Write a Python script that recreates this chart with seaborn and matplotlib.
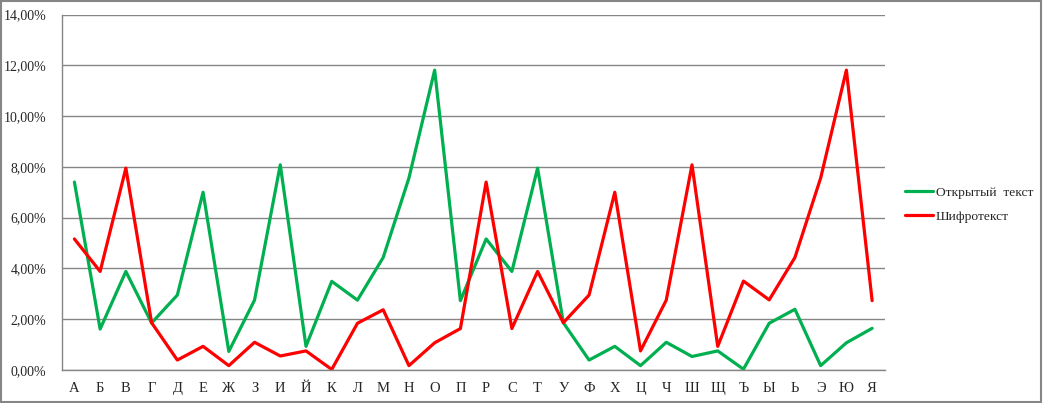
import pandas as pd
import seaborn as sns
import matplotlib.pyplot as plt
from matplotlib.patches import Rectangle
from matplotlib.ticker import FuncFormatter, MultipleLocator

letters = ['А', 'Б', 'В', 'Г', 'Д', 'Е', 'Ж', 'З', 'И', 'Й', 'К', 'Л', 'М', 'Н', 'О', 'П',
           'Р', 'С', 'Т', 'У', 'Ф', 'Х', 'Ц', 'Ч', 'Ш', 'Щ', 'Ъ', 'Ы', 'Ь', 'Э', 'Ю', 'Я']

# letter frequencies, %
open_text = [7.40, 1.61, 3.88, 1.85, 2.95, 7.00, 0.73, 2.75, 8.08, 0.93, 3.49, 2.75, 4.43, 7.56, 11.81, 2.73,
             5.16, 3.88, 7.95, 1.86, 0.39, 0.93, 0.17, 1.09, 0.53, 0.75, 0.03, 1.84, 2.39, 0.17, 1.07, 1.64]
cipher_text = [5.16, 3.88, 7.95, 1.86, 0.39, 0.93, 0.17, 1.09, 0.55, 0.75, 0.02, 1.84, 2.37, 0.17, 1.07, 1.63,
               7.40, 1.63, 3.88, 1.86, 2.95, 7.00, 0.75, 2.75, 8.08, 0.93, 3.50, 2.76, 4.43, 7.56, 11.81, 2.73]

series_names = ['Открытый  текст', 'Шифротекст']
colors = ['#00B050', '#FF0000']

df = pd.concat([
    pd.DataFrame({'pos': range(len(letters)), 'freq': open_text, 'series': series_names[0]}),
    pd.DataFrame({'pos': range(len(letters)), 'freq': cipher_text, 'series': series_names[1]}),
])

sns.set_style('white')
plt.rcParams['font.family'] = ['Liberation Serif', 'DejaVu Serif']

fig = plt.figure(figsize=(10.43, 4.03), dpi=100)
ax = fig.add_axes([0.059, 0.082, 0.7895, 0.882])

sns.lineplot(data=df, x='pos', y='freq', hue='series', palette=colors, linewidth=2.3, ax=ax)

grid_col = '#868686'
ax.set_ylim(0, 14)
ax.set_xlim(-0.5, len(letters) - 0.5)
ax.yaxis.set_major_locator(MultipleLocator(2))
ax.yaxis.set_major_formatter(FuncFormatter(lambda v, p: f'{v:.2f}'.replace('.', ',') + '%'))
ax.yaxis.grid(True, color=grid_col, linewidth=1)
ax.set_axisbelow(True)

ax.set_xticks(range(len(letters)))
ax.set_xticklabels(letters)
ax.set_xticks([i - 0.5 for i in range(len(letters) + 1)], minor=True)
ax.tick_params(axis='x', which='major', length=0, pad=9, labelsize=10.5)
ax.tick_params(axis='x', which='minor', length=4, width=1, color=grid_col, direction='out')
ax.tick_params(axis='y', length=4, width=1, color=grid_col, direction='out', pad=7, labelsize=10)
ax.set_xlabel('')
ax.set_ylabel('')

for s in ['top', 'right']:
    ax.spines[s].set_visible(False)
for s in ['left', 'bottom']:
    ax.spines[s].set_color(grid_col)
    ax.spines[s].set_linewidth(1)

ax.legend(loc='center left', bbox_to_anchor=(1.018, 0.465), frameon=False, fontsize=9.7,
          handlelength=2.1, handletextpad=0.15, labelspacing=0.85, borderaxespad=0)

fig.patches.append(Rectangle((0.0008, 0.0015), 0.997, 0.996, transform=fig.transFigure,
                             fill=False, edgecolor=grid_col, linewidth=1.5))

plt.savefig('out.png', dpi=100)
